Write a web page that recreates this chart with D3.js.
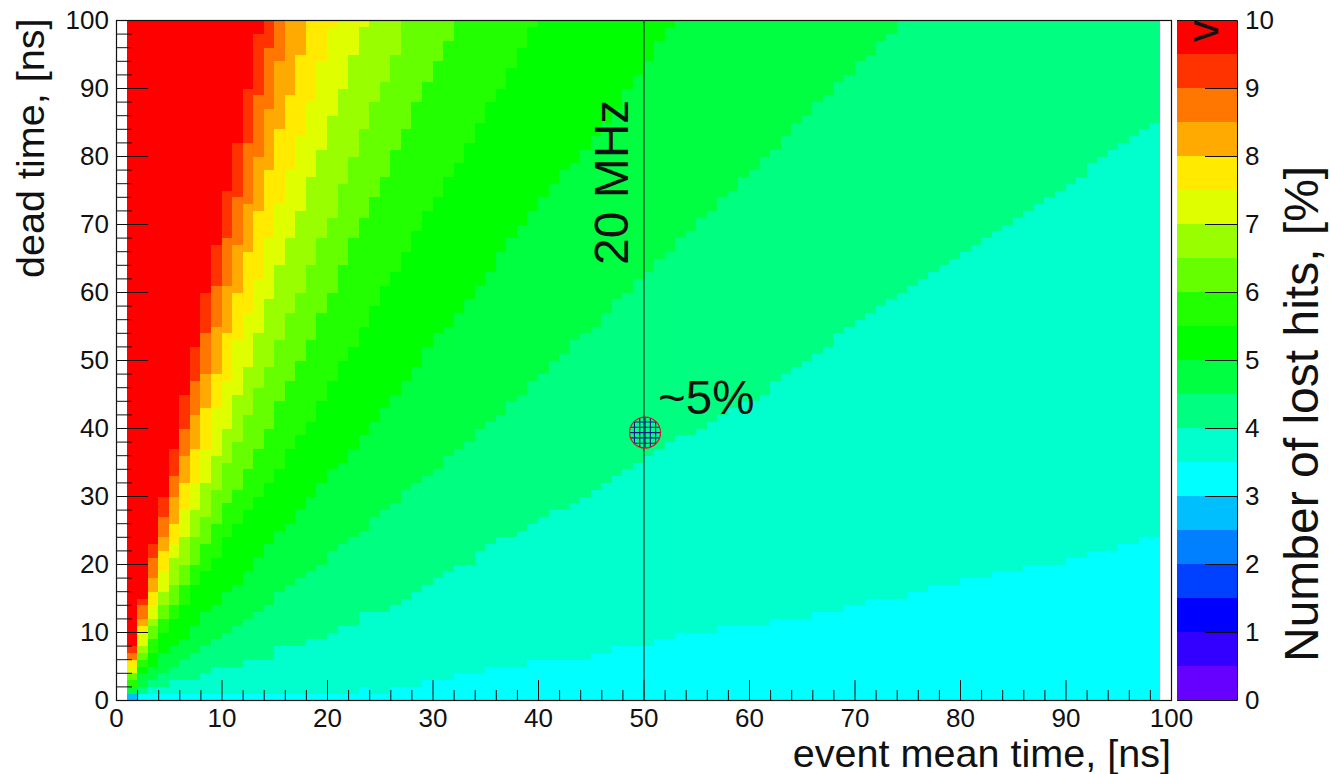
<!DOCTYPE html>
<html>
<head>
<meta charset="utf-8">
<style>
html,body{margin:0;padding:0;background:#fff}
svg{display:block}
text{font-family:"Liberation Sans",Arial,sans-serif;fill:#111}
</style>
<script src="https://cdn.jsdelivr.net/npm/d3@7"></script>
</head>
<body>
<svg id="c" width="1330" height="774"></svg>
<script>
// Colour bands of the z palette, from 0 to 10 in steps of 0.5
const bandColors = ["#6600ff","#3300ff","#0000ff","#0040ff","#0080ff","#00bfff","#00ffff","#00ffcc","#00ff80","#00ff40",
  "#00ff00","#22ff00","#66ff00","#99ff00","#dfff00","#ffea00","#ffaa00","#ff7700","#ff3300","#ff0000"];
const xTickLabels = [0,10,20,30,40,50,60,70,80,90,100];
const yTickLabels = [0,10,20,30,40,50,60,70,80,90,100];
const zTickLabels = [0,1,2,3,4,5,6,7,8,9,10];
const minorTicks = [2,4,6,8,12,14,16,18,22,24,26,28,32,34,36,38,42,44,46,48,52,54,56,58,62,64,66,68,72,74,76,78,82,84,86,88,92,94,96,98];

// Filled bins cover event mean time 1..99 ns; columns below start at bin 1.
const firstColumn = 1, columnCount = 98, rowCount = 100, baseBand = 6;
// Lowest dead-time bin at which each band starts, one value per column.
const band7  = [1,1,1,1,1,1,1,1,1,1,1,1,1,1,1,1,1,1,1,1,1,1,2,1,1,2,2,2,3,3,3,4,4,4,5,5,5,5,6,6,6,6,6,6,7,7,8,8,8,8,9,9,10,10,10,10,11,11,11,11,11,12,12,12,12,13,13,13,14,14,15,15,15,15,16,16,17,17,17,18,18,18,19,19,19,20,20,20,20,21,21,22,22,22,23,23,24,24];
const band8  = [1,1,2,2,3,3,3,4,5,5,5,6,6,6,8,8,8,9,9,10,11,11,13,13,13,14,15,16,17,18,19,20,20,22,23,24,24,25,26,27,28,28,29,30,31,32,33,34,35,36,37,38,39,39,40,41,42,43,44,44,45,47,48,49,50,51,52,54,55,56,57,58,59,60,61,62,63,64,65,66,67,68,69,70,71,72,73,74,75,76,77,79,80,81,82,83,84,85];
const band9  = [1,2,3,4,5,6,7,8,9,10,11,12,13,14,16,17,18,19,20,22,23,24,25,27,28,29,31,32,33,34,36,37,38,40,41,42,44,45,47,48,50,51,53,54,55,57,59,60,62,63,65,66,68,69,71,72,74,75,77,78,80,81,83,85,86,88,89,91,92,94,95,97,98];
const band10 = [2,4,5,7,8,9,11,13,14,16,17,19,21,23,25,26,28,30,32,34,35,37,39,41,43,45,47,49,52,54,55,57,59,61,63,66,68,70,72,74,76,78,79,81,83,85,87,90,92,94,97,99];
const band11 = [2,5,7,10,12,14,17,19,21,24,26,28,30,32,34,37,39,41,44,47,50,52,55,58,61,63,66,69,72,74,77,79,82,85,88,90,93,96,99];
const band12 = [3,6,9,12,14,17,20,23,26,29,31,34,37,40,44,47,50,53,57,60,64,68,71,74,77,81,84,88,91,94,97];
const band13 = [4,7,11,14,17,20,24,27,31,35,38,42,46,49,53,57,60,64,68,71,76,80,84,88,91,95];
const band14 = [4,8,12,16,21,24,28,32,36,40,45,49,54,59,64,68,72,77,81,86,90,95,99];
const band15 = [5,10,14,19,23,28,32,37,43,47,53,57,62,68,73,78,83,88,94,99];
const band16 = [6,11,16,22,26,32,37,43,48,54,60,66,72,78,84,89,95];
const band17 = [6,12,18,24,30,36,42,48,55,61,67,73,80,87,94];
const band18 = [7,14,21,27,33,40,47,54,61,68,74,82,89,96];
const band19 = [8,15,23,30,37,45,52,60,67,75,82,90,98];
// The single lower bin: column 1, row 0 sits in band 5
const lowColumn = [1], lowRow = [0], lowBand = [5];

const eventTimeLine = [50];
const markerX = [50.1], markerY = [39.4];

const bandStarts = [[7,band7],[8,band8],[9,band9],[10,band10],[11,band11],[12,band12],[13,band13],
  [14,band14],[15,band15],[16,band16],[17,band17],[18,band18],[19,band19]];

const svg = d3.select("#c");
const x = d3.scaleLinear().domain([0,100]).range([116,1171]);
const y = d3.scaleLinear().domain([0,100]).range([700,20]);
const z = d3.scaleLinear().domain([0,10]).range([700,20]);
const color = i => bandColors[i];

// bins, merged into vertical runs of equal band
const bandOf = (c,r) => {
  if (lowColumn[0]===c && lowRow[0]===r) return lowBand[0];
  let b = baseBand;
  for (const [k,a] of bandStarts) { const v = a[c-firstColumn]; if (v!==undefined && r>=v) b = k; }
  return b;
};
const runs = [];
d3.range(firstColumn, firstColumn+columnCount).forEach(c => {
  let start = 0, cur = bandOf(c,0);
  for (let r=1;r<=rowCount;r++) {
    const b = r<rowCount ? bandOf(c,r) : -1;
    if (b!==cur) { runs.push({c,start,end:r,b:cur}); start=r; cur=b; }
  }
});
svg.append("g").attr("shape-rendering","crispEdges").selectAll("rect").data(runs).join("rect")
  .attr("x",d=>x(d.c)).attr("width",d=>x(d.c+1)-x(d.c))
  .attr("y",d=>y(d.end)+0.5).attr("height",d=>y(d.start)-y(d.end))
  .attr("fill",d=>color(d.b));

// colour bar
svg.append("g").attr("shape-rendering","crispEdges").selectAll("rect").data(bandColors).join("rect")
  .attr("x",1177).attr("width",60)
  .attr("y",(d,i)=>z((i+1)/2)).attr("height",(d,i)=>z(i/2)-z((i+1)/2))
  .attr("fill",d=>d);

// frame
svg.append("rect").attr("x",116.5).attr("y",20.5).attr("width",1055).attr("height",680)
  .attr("fill","none").attr("stroke","#111").attr("stroke-width",1.2);

const styleAxis = (g,fs) => { g.select(".domain").remove();
  g.selectAll("line").attr("stroke","#111").attr("stroke-width",1);
  g.selectAll("text").attr("font-size",fs).attr("fill","#111").attr("font-family","'Liberation Sans',Arial,sans-serif"); };

// x axis
svg.append("g").attr("transform","translate(0,700)")
  .call(d3.axisBottom(x).tickValues(minorTicks).tickSizeInner(-10).tickSizeOuter(0).tickFormat(""))
  .call(g=>styleAxis(g,26));
svg.append("g").attr("transform","translate(0,700)")
  .call(d3.axisBottom(x).tickValues(xTickLabels).tickSizeInner(-20).tickSizeOuter(0).tickPadding(9).tickFormat(d3.format("d")))
  .call(g=>styleAxis(g,26));
// y axis
svg.append("g").attr("transform","translate(116,0)")
  .call(d3.axisLeft(y).tickValues(minorTicks).tickSizeInner(-16).tickSizeOuter(0).tickFormat(""))
  .call(g=>styleAxis(g,26));
svg.append("g").attr("transform","translate(116,0)")
  .call(d3.axisLeft(y).tickValues(yTickLabels).tickSizeInner(-32).tickSizeOuter(0).tickPadding(7).tickFormat(d3.format("d")))
  .call(g=>styleAxis(g,26));
// z axis
svg.append("g").attr("transform","translate(1237,0)")
  .call(d3.axisRight(z).tickValues(zTickLabels).tickSizeInner(-32).tickSizeOuter(0).tickPadding(8).tickFormat(d3.format("d")))
  .call(g=>styleAxis(g,26));
svg.append("path").attr("d","M1177,20.5H1237.5V700.5H1177").attr("fill","none").attr("stroke","#111").attr("stroke-width",1);

// 20 MHz line
svg.selectAll(".vline").data(eventTimeLine).join("line").attr("class","vline")
  .attr("x1",d=>x(d)+0.5).attr("x2",d=>x(d)+0.5).attr("y1",y(100)).attr("y2",y(0))
  .attr("stroke","#0a3a2a").attr("stroke-width",1.2);

// marker: hatched circle
const mx = x(markerX[0])+0.5, my = y(markerY[0])+0.5, mr = 15.5;
svg.append("defs").append("clipPath").attr("id","mk").append("circle").attr("cx",mx).attr("cy",my).attr("r",mr);
const hatch = svg.append("g").attr("clip-path","url(#mk)");
d3.range(-3,4).forEach(k=>{
  hatch.append("line").attr("x1",mx+k*5.3).attr("x2",mx+k*5.3).attr("y1",my-mr).attr("y2",my+mr);
  hatch.append("line").attr("y1",my+k*5.3).attr("y2",my+k*5.3).attr("x1",mx-mr).attr("x2",mx+mr);
});
hatch.selectAll("line").attr("stroke","#0a1a8a").attr("stroke-width",1.1);
svg.append("circle").attr("cx",mx).attr("cy",my).attr("r",mr).attr("fill","none").attr("stroke","#e8102a").attr("stroke-width",1.2);

// texts
const rot = (t,xp,yp,fs,anchor) => svg.append("text").attr("transform",`translate(${xp},${yp}) rotate(-90)`)
  .attr("font-size",fs).attr("text-anchor",anchor).text(t);
svg.append("text").attr("x",1171).attr("y",767).attr("font-size",39.6).attr("text-anchor","end").text("event mean time, [ns]");
rot("dead time, [ns]",44,278,39.6,"start");
rot("Number of lost hits, [%]",1318,662,48,"start");
rot("20 MHz",628,265,48,"start");
svg.append("text").attr("x",658).attr("y",414).attr("font-size",47.5).text("~5%");
rot("v",1218,42,44,"start");
</script>
</body>
</html>
